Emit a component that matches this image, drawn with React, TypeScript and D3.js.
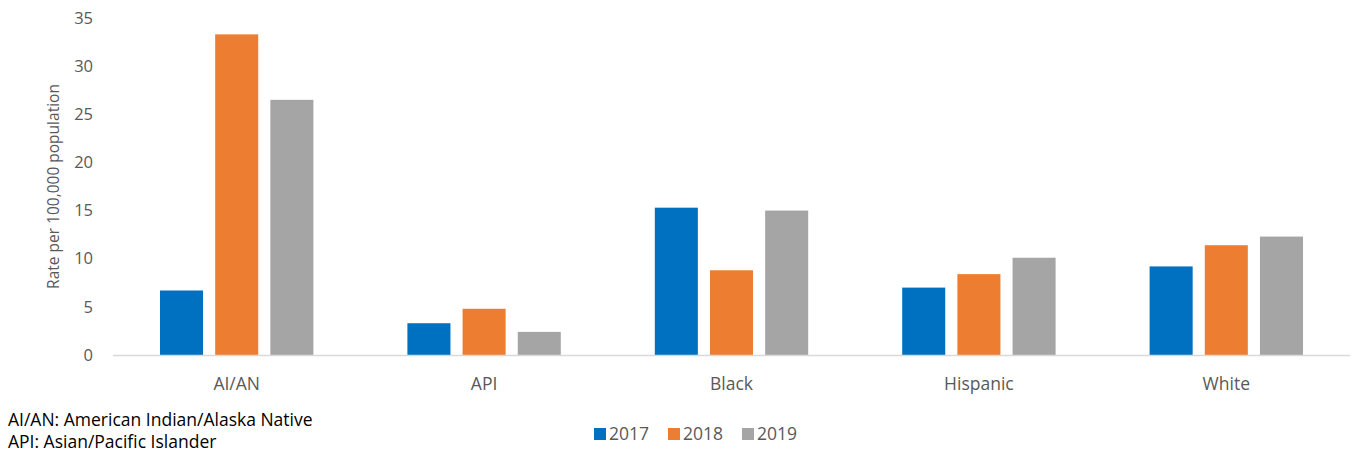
import React from "react";
import * as d3 from "d3";

const categories = ["AI/AN", "API", "Black", "Hispanic", "White"];
const years = ["2017", "2018", "2019"];
const values2017 = [6.7, 3.3, 15.3, 7.0, 9.2];
const values2018 = [33.3, 4.8, 8.8, 8.4, 11.4];
const values2019 = [26.5, 2.4, 15.0, 10.1, 12.3];
const yTicks = [0, 5, 10, 15, 20, 25, 30, 35];
const colors = ["#0070c0", "#ed7d31", "#a5a5a5"];
const footnotes = ["AI/AN: American Indian/Alaska Native", "API: Asian/Pacific Islander"];

const W = 1353;
const H = 455;
const margin = {top: 18, right: 3, bottom: 100, left: 113};
const font = "'Open Sans', 'Noto Sans', sans-serif";

function App(): JSX.Element {
    const seriesList = [values2017, values2018, values2019];

    const x = d3.scaleBand<string>()
        .domain(categories)
        .range([margin.left, W - margin.right])
        .paddingInner(0.38)
        .paddingOuter(0.19);

    const inner = d3.scaleBand<string>()
        .domain(years)
        .range([0, x.bandwidth()])
        .paddingInner(0.22);

    const y = d3.scaleLinear()
        .domain([0, 35])
        .range([H - margin.bottom, margin.top]);

    // legend layout
    const legendX = [594, 668, 742];

    return (
        <svg width={W} height={H} style={{position: "absolute", left: 0, top: 0}} fontFamily={font}>
            <rect width={W} height={H} fill="#fff"/>
            {yTicks.map(t => (
                <text key={t} x={93} y={y(t)} dy="0.35em" textAnchor="end" fontSize={16.5} fill="#595959">{t}</text>
            ))}
            <text transform={`translate(59, ${(y(0) + y(35)) / 2}) rotate(-90)`} textAnchor="middle"
                  fontSize={15.5} fill="#595959">Rate per 100,000 population</text>
            {seriesList.map((series, si) => (
                <g key={years[si]}>
                    {series.map((v, ci) => (
                        <rect key={categories[ci]}
                              x={(x(categories[ci]) || 0) + (inner(years[si]) || 0)}
                              y={y(v)}
                              width={inner.bandwidth()}
                              height={y(0) - y(v)}
                              fill={colors[si]}/>
                    ))}
                </g>
            ))}
            <line x1={margin.left} x2={W - margin.right} y1={y(0) + 0.5} y2={y(0) + 0.5} stroke="#d9d9d9" strokeWidth={1.5}/>
            {categories.map(c => (
                <text key={c} x={(x(c) || 0) + x.bandwidth() / 2} y={390} textAnchor="middle" fontSize={17.5} fill="#595959">{c}</text>
            ))}
            {footnotes.map((f, i) => (
                <text key={f} x={8} y={426 + i * 22} fontSize={17.5} fill="#000">{f}</text>
            ))}
            {years.map((yr, i) => (
                <g key={yr} transform={`translate(${legendX[i]}, 428)`}>
                    <rect x={0} y={0} width={12} height={12} fill={colors[i]}/>
                    <text x={15} y={12} fontSize={17.5} fill="#595959">{yr}</text>
                </g>
            ))}
        </svg>
    );
}

export default App;
